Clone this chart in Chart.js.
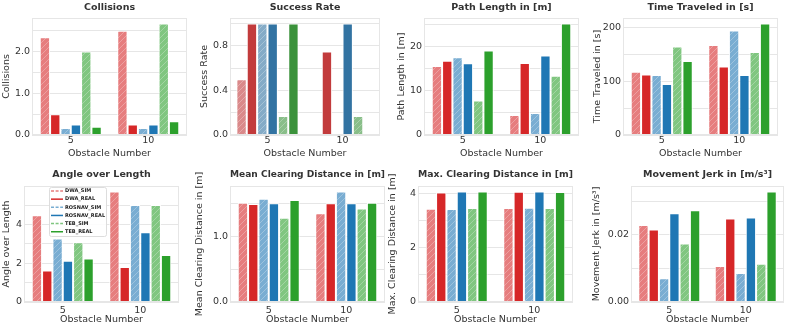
<!DOCTYPE html>
<html lang="en">
<head>
<meta charset="UTF-8">
<title>Obstacle Number metrics</title>
<script src="https://cdn.jsdelivr.net/npm/chart.js"></script>
<style>
  body { margin: 0; background: #fff; }
  #board { position: relative; width: 789px; height: 328px; overflow: hidden; }
  #board canvas { position: absolute; }
</style>
</head>
<body>
<div id="board"></div>
<script>
// --- DATA ---
const obstacleNumbers = ['5', '10'];
const seriesNames = ['DWA_SIM', 'DWA_REAL', 'ROSNAV_SIM', 'ROSNAV_REAL', 'TEB_SIM', 'TEB_REAL'];

// one [5, 10] pair per series, same order as seriesNames
const collisions      = [[2.34, 2.50], [0.50, 0.25], [0.17, 0.17], [0.25, 0.25], [2.00, 2.67], [0.20, 0.33]];
const successRate     = [[0.50, 0.00], [1.00, 0.75], [1.00, 0.00], [1.00, 1.00], [0.17, 0.17], [1.00, 0.00]];
const pathLength      = [[15.6, 4.5], [16.8, 16.3], [17.6, 5.0], [16.2, 18.0], [7.8, 13.4], [19.1, 25.2]];
const timeTraveled    = [[118, 168], [113, 128], [112, 195], [95, 112], [165, 155], [138, 208]];
const angleOverLength = [[4.47, 5.70], [1.62, 1.80], [3.27, 5.00], [2.13, 3.60], [3.08, 5.00], [2.24, 2.43]];
const meanClearing    = [[1.51, 1.35], [1.49, 1.50], [1.57, 1.68], [1.50, 1.50], [1.28, 1.42], [1.55, 1.51]];
const maxClearing     = [[3.43, 3.45], [4.02, 4.05], [3.42, 3.46], [4.06, 4.06], [3.45, 3.45], [4.06, 4.04]];
const movementJerk    = [[0.0229, 0.0107], [0.0216, 0.0249], [0.0071, 0.0086], [0.0264, 0.0252], [0.0174, 0.0114], [0.0273, 0.0329]];

// --- STYLE ---
const FONT = 'DejaVu Sans';
const INK = '#333333';
const GRID = '#e6e6e6';
const baseColors  = ['#d62728', '#1f77b4', '#2ca02c'];
const mutedColors = ['#c23b3c', '#3273a2', '#3b923b']; // success rate panel is desaturated

// plot = [left, top, right, bottom] of the axes box in page pixels
const panels = [
  { title: 'Collisions', yLabel: 'Collisions', values: collisions, gridStep: 0.5, labelStep: 1, decimals: 1, plot: [32, 18, 187, 135], yTitleX: 7, row: 0, catPct: 0.8 },
  { title: 'Success Rate', yLabel: 'Success Rate', values: successRate, gridStep: 0.2, labelStep: 0.4, decimals: 1, plot: [230, 18, 380, 135], yTitleX: 205, row: 0, catPct: 0.83, muted: true },
  { title: 'Path Length in [m]', yLabel: 'Path Length in [m]', values: pathLength, gridStep: 5, labelStep: 10, decimals: 0, plot: [424, 18, 579, 135], yTitleX: 402, row: 0, catPct: 0.8 },
  { title: 'Time Traveled in [s]', yLabel: 'Time Traveled in [s]', values: timeTraveled, gridStep: 50, labelStep: 100, decimals: 0, plot: [623, 18, 778, 135], yTitleX: 598, row: 0, catPct: 0.8 },
  { title: 'Angle over Length', yLabel: 'Angle over Length', values: angleOverLength, gridStep: 1, labelStep: 2, decimals: 0, plot: [24, 186, 179, 302], yTitleX: 7, row: 1, catPct: 0.8, legend: true },
  { title: 'Mean Clearing Distance in [m]', yLabel: 'Mean Clearing Distance in [m]', values: meanClearing, gridStep: 0.5, labelStep: 1, decimals: 1, plot: [230, 186, 385, 302], yTitleX: 200, row: 1, catPct: 0.8 },
  { title: 'Max. Clearing Distance in [m]', yLabel: 'Max. Clearing Distance in [m]', values: maxClearing, gridStep: 1, labelStep: 2, decimals: 0, plot: [418, 186, 573, 302], yTitleX: 393, row: 1, catPct: 0.8 },
  { title: 'Movement Jerk in [m/s\u00b3]', yLabel: 'Movement Jerk in [m/s\u00b3]', values: movementJerk, gridStep: 0.01, labelStep: 0.02, decimals: 2, plot: [631, 186, 784, 302], yTitleX: 597, row: 1, catPct: 0.81 }
];

// --- HELPERS ---
function lighten(hex, alpha) {
  const n = parseInt(hex.slice(1), 16);
  const mix = c => Math.round(c * alpha + 255 * (1 - alpha));
  return `rgb(${mix(n >> 16)}, ${mix((n >> 8) & 255)}, ${mix(n & 255)})`;
}

function hatch(color) {
  const size = 6;
  const tile = document.createElement('canvas');
  tile.width = size; tile.height = size;
  const c = tile.getContext('2d');
  c.fillStyle = color;
  c.fillRect(0, 0, size, size);
  c.strokeStyle = 'rgba(255,255,255,0.35)';
  c.lineWidth = 0.8;
  c.beginPath();
  c.moveTo(0, size); c.lineTo(size, 0);
  c.moveTo(-1, 1); c.lineTo(1, -1);
  c.moveTo(size - 1, size + 1); c.lineTo(size + 1, size - 1);
  c.stroke();
  return c.createPattern(tile, 'repeat');
}

const framePlugin = {
  id: 'frame',
  afterDatasetsDraw(chart) {
    const { ctx, chartArea: a } = chart;
    ctx.save();
    ctx.strokeStyle = GRID;
    ctx.lineWidth = 1;
    ctx.strokeRect(Math.round(a.left) + 0.5, Math.round(a.top) + 0.5,
      Math.round(a.right - a.left) - 1, Math.round(a.bottom - a.top) - 1);
    ctx.restore();
  }
};

// legend drawn inside the axes box, upper left
const innerLegend = {
  id: 'innerLegend',
  afterDraw(chart, args, opts) {
    if (!opts.show) return;
    const { ctx, chartArea } = chart;
    const x = chartArea.left + 25, y = chartArea.top + 1;
    const w = 57, h = 49, rowH = 8.15;
    ctx.save();
    ctx.fillStyle = 'rgba(255,255,255,0.85)';
    ctx.strokeStyle = '#dddddd';
    ctx.lineWidth = 1;
    ctx.beginPath();
    ctx.roundRect(x + 0.5, y + 0.5, w, h, 2);
    ctx.fill();
    ctx.stroke();
    ctx.font = `bold 5px "${FONT}"`;
    ctx.textBaseline = 'middle';
    chart.data.datasets.forEach((ds, i) => {
      const ry = y + 4 + i * rowH;
      ctx.strokeStyle = ds.legendColor;
      ctx.lineWidth = 1.5;
      ctx.setLineDash(ds.label.endsWith('_SIM') ? [3, 1.6] : []);
      ctx.beginPath();
      ctx.moveTo(x + 2, ry); ctx.lineTo(x + 14, ry);
      ctx.stroke();
      ctx.fillStyle = '#222';
      ctx.fillText(ds.label, x + 16, ry);
    });
    ctx.restore();
  }
};

// --- BUILD PANELS ---
const board = document.getElementById('board');

panels.forEach(p => {
  const [l, t, r, b] = p.plot;
  const rowTop = p.row * 164;
  const left = p.yTitleX - 7;
  const right = r + 5;
  const cv = document.createElement('canvas');
  cv.width = right - left;
  cv.height = 164;
  cv.style.left = left + 'px';
  cv.style.top = rowTop + 'px';
  board.appendChild(cv);

  const titleH = t - rowTop;
  const titleTop = p.row ? 5.2 : 1.6;
  const axisH = rowTop + 164 - b;
  const yAxisW = l - left;
  const yMax = Math.max(...p.values.flat()) * 1.05;
  const palette = p.muted ? mutedColors : baseColors;

  const datasets = seriesNames.map((name, i) => {
    const base = palette[Math.floor(i / 2)];
    const isSim = i % 2 === 0;
    return {
      label: name,
      data: p.values[i],
      backgroundColor: isSim ? hatch(lighten(base, 0.6)) : base,
      legendColor: isSim ? lighten(base, 0.6) : base,
      borderColor: '#ffffff',
      borderWidth: 1,
      categoryPercentage: p.catPct,
      barPercentage: 1
    };
  });

  const tickFont = { family: FONT, size: 9.5 };

  new Chart(cv, {
    type: 'bar',
    data: { labels: obstacleNumbers, datasets },
    options: {
      responsive: false,
      animation: false,
      devicePixelRatio: 1,
      events: [],
      layout: { padding: { left: 0, top: 0, bottom: 0, right: right - r } },
      plugins: {
        legend: { display: false },
        tooltip: { enabled: false },
        title: {
          display: true,
          text: p.title,
          fullSize: false,
          color: INK,
          font: { family: FONT, size: 9.5, weight: 'bold', lineHeight: 1.2 },
          padding: { top: titleTop, bottom: titleH - 11.4 - titleTop }
        },
        innerLegend: { show: !!p.legend }
      },
      scales: {
        x: {
          grid: { display: false, drawTicks: false },
          border: { display: false },
          ticks: { color: INK, font: tickFont, padding: p.row ? 3 : 0 },
          title: { display: true, text: 'Obstacle Number', color: INK, font: tickFont, padding: { top: 0, bottom: p.row ? 3 : 5 } },
          afterFit: s => { s.height = axisH; s.paddingLeft = 0; s.paddingRight = 0; }
        },
        y: {
          min: 0,
          max: yMax,
          bounds: 'data',
          grid: { color: GRID, lineWidth: 1, drawTicks: false },
          border: { display: false },
          ticks: {
            stepSize: p.gridStep,
            includeBounds: false,
            autoSkip: false,
            padding: 2,
            color: INK,
            font: tickFont,
            callback: v => {
              const k = v / p.labelStep;
              return Math.abs(k - Math.round(k)) < 1e-6 ? v.toFixed(p.decimals) : '';
            }
          },
          title: { display: true, text: p.yLabel, color: INK, font: tickFont, padding: { top: 1.3, bottom: 0 } },
          afterFit: s => { s.width = yAxisW; s.paddingTop = 0; s.paddingBottom = 0; }
        }
      }
    },
    plugins: [framePlugin, innerLegend]
  });
});
</script>
</body>
</html>
